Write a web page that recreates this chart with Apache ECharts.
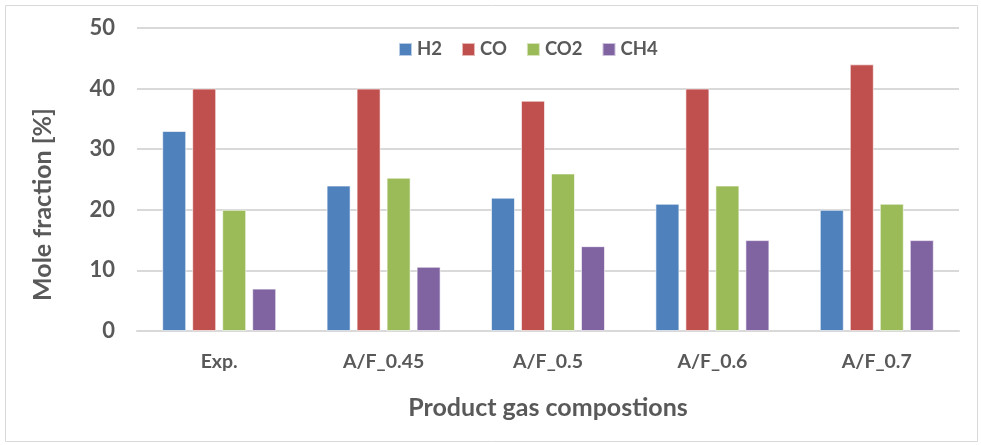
<!DOCTYPE html>
<html>
<head>
<meta charset="utf-8">
<script src="https://cdn.jsdelivr.net/npm/echarts@6/dist/echarts.min.js"></script>
<style>
  html, body { margin: 0; padding: 0; background: #fff; }
  #chart { width: 981px; height: 445px; }
</style>
</head>
<body>
<div id="chart"></div>
<script>
// Product gas composition per case
const categories = ['Exp.', 'A/F_0.45', 'A/F_0.5', 'A/F_0.6', 'A/F_0.7'];
const h2  = [33, 24, 22, 21, 20];
const co  = [40, 40, 38, 40, 44];
const co2 = [20, 25.3, 26, 24, 21];
const ch4 = [7, 10.6, 14, 15, 15];
const yTicks = [0, 10, 20, 30, 40, 50];

const seriesDefs = [
  { name: 'H2',  data: h2,  color: '#4F81BD' },
  { name: 'CO',  data: co,  color: '#C0504D' },
  { name: 'CO2', data: co2, color: '#9BBB59' },
  { name: 'CH4', data: ch4, color: '#8064A2' }
];

const textColor = '#595959';
const font = 'Lato, "Open Sans", sans-serif';

const chart = echarts.init(document.getElementById('chart'), null, { renderer: 'canvas' });
chart.setOption({
  backgroundColor: '#fff',
  animation: false,
  textStyle: { fontFamily: font },
  graphic: [{
    type: 'rect',
    shape: { x: 5.5, y: 5.5, width: 972, height: 436 },
    style: { fill: 'none', stroke: '#d9d9d9', lineWidth: 1 },
    silent: true
  }],
  legend: {
    top: 35,
    left: 393,
    itemWidth: 13,
    itemHeight: 13,
    itemGap: 19,
    icon: 'rect',
    textStyle: { color: textColor, fontSize: 18.5, fontWeight: 'bold', fontFamily: font },
    data: seriesDefs.map(s => s.name)
  },
  grid: { left: 137, right: 22, top: 28, bottom: 114, containLabel: false },
  xAxis: {
    type: 'category',
    data: categories,
    name: 'Product gas compostions',
    nameLocation: 'middle',
    nameGap: 64,
    nameTextStyle: { color: textColor, fontSize: 25, fontWeight: 'bold', fontFamily: font },
    axisLine: { lineStyle: { color: '#d9d9d9', width: 2 } },
    axisTick: { show: false },
    axisLabel: { color: textColor, fontSize: 19.5, fontWeight: 'bold', margin: 21, fontFamily: font }
  },
  yAxis: {
    type: 'value',
    min: yTicks[0],
    max: yTicks[yTicks.length - 1],
    interval: 10,
    name: 'Mole fraction [%]',
    nameLocation: 'middle',
    nameGap: 82,
    nameRotate: 90,
    nameTextStyle: {
      color: textColor, fontSize: 25, fontWeight: 'bold', fontFamily: font,
      padding: [0, 50, 0, 0]
    },
    axisLine: { show: false },
    axisTick: { show: false },
    axisLabel: { color: textColor, fontSize: 22, fontWeight: 'bold', margin: 22, fontFamily: font },
    splitLine: { lineStyle: { color: '#d9d9d9', width: 2 } }
  },
  series: seriesDefs.map(s => ({
    name: s.name,
    type: 'bar',
    data: s.data,
    barWidth: 24,
    barGap: '25%',
    itemStyle: { color: s.color, borderColor: 'rgba(255,255,255,0.6)', borderWidth: 1 }
  }))
});
</script>
</body>
</html>
